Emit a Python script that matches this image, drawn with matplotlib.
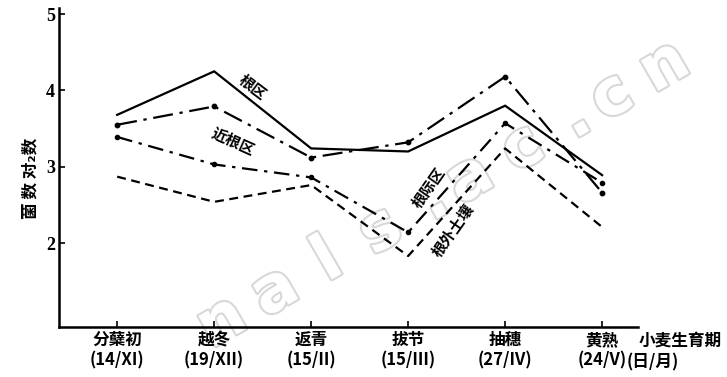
import math
import matplotlib
matplotlib.use("Agg")
import matplotlib.pyplot as plt
import matplotlib.patheffects as pe

plt.rcParams["font.family"] = ["Noto Sans CJK SC", "DejaVu Sans"]

# Wheat growth stages and sampling dates (day/month)
stages = ["分蘖初", "越冬", "返青", "拔节", "抽穗", "黄熟"]
dates = ["(14/XI)", "(19/XII)", "(15/II)", "(15/III)", "(27/IV)", "(24/V)"]
yticks = [2, 3, 4, 5]

# log10 of microbial counts per zone
root_zone = [3.68, 4.25, 3.24, 3.20, 3.80, 2.89]      # 根区
near_root = [3.55, 3.79, 3.12, 3.32, 4.18, 2.66]      # 近根区
rhizosphere = [3.39, 3.03, 2.86, 2.14, 3.57, 2.79]    # 根际区
bulk_soil = [2.87, 2.54, 2.76, 1.83, 3.24, 2.21]      # 根外土壤

W, H = 727, 377
fig = plt.figure(figsize=(W / 100, H / 100), dpi=100)
ax = fig.add_axes([59 / W, 1 - 327 / H, (638 - 59) / W, (327 - 8) / H])

x = list(range(len(stages)))
lw = 1.6
ax.plot(x, root_zone, color="black", lw=lw, solid_joinstyle="miter", zorder=2)
ax.plot(x, near_root, color="black", lw=lw, dashes=(9, 3, 1.5, 3),
        marker="o", ms=3.2, zorder=2)
ax.plot(x, rhizosphere, color="black", lw=lw, dashes=(7, 3, 1.5, 3),
        marker="o", ms=3.0, zorder=2)
ax.plot(x, bulk_soil, color="black", lw=lw, dashes=(4, 2.5), zorder=2)

ax.set_xlim(-0.6, 5.37)
ax.set_ylim(0.9, 5.08)

for s in ("top", "right"):
    ax.spines[s].set_visible(False)
for s in ("left", "bottom"):
    ax.spines[s].set_linewidth(1.8)

ax.set_yticks(yticks)
ax.set_yticklabels([str(v) for v in yticks], fontfamily="Liberation Serif",
                   fontweight="bold", fontsize=13)
ax.tick_params(axis="y", direction="in", length=4, width=1.2, pad=3)

ax.set_xticks(x)
ax.set_xticklabels([f"{s}\n{d}" for s, d in zip(stages, dates)],
                   fontsize=12, fontweight="bold", linespacing=1.15)
ax.tick_params(axis="x", direction="in", length=4, width=1.2, pad=3)

# Curve names written along the lines
tkw = dict(fontsize=11, fontweight="bold", ha="center", va="center", zorder=3)
ax.text(1.39, 4.04, "根区", rotation=-37, **tkw)
ax.text(1.19, 3.33, "近根区", rotation=-24, **tkw)
ax.text(3.21, 2.72, "根际区", rotation=55, **tkw)
ax.text(3.46, 2.17, "根外土壤", rotation=55, **tkw)

fig.text(30 / W, 1 - 178 / H, "菌 数 对₂数", rotation=90, fontsize=12,
         fontweight="bold", ha="center", va="center")
fig.text(680 / W, 1 - 341 / H, "小麦生育期", fontsize=12, fontweight="bold",
         ha="center", va="center")
fig.text(653 / W, 1 - 362 / H, "(日/月)", fontsize=12, fontweight="bold",
         ha="center", va="center")

# faint, widely spaced site watermark behind the curves
mark = "nals.ac.cn"
ang = 30
ux, uy = math.cos(math.radians(ang)), math.sin(math.radians(ang))
px, py = 222.0, 322.0          # pixel position of the first letter (from top)
for ch in mark:
    ax.text(px / W, 1 - py / H, ch, transform=fig.transFigure,
            rotation=ang, fontsize=46, fontfamily="DejaVu Sans",
            fontweight="bold", color="white", ha="center", va="center",
            zorder=0.5, clip_on=False,
            path_effects=[pe.withStroke(linewidth=3, foreground="#d8d8d8")])
    step = 42 if ch == "." else 61
    px += step * ux
    py -= step * uy

fig.savefig("out.png", dpi=100)
